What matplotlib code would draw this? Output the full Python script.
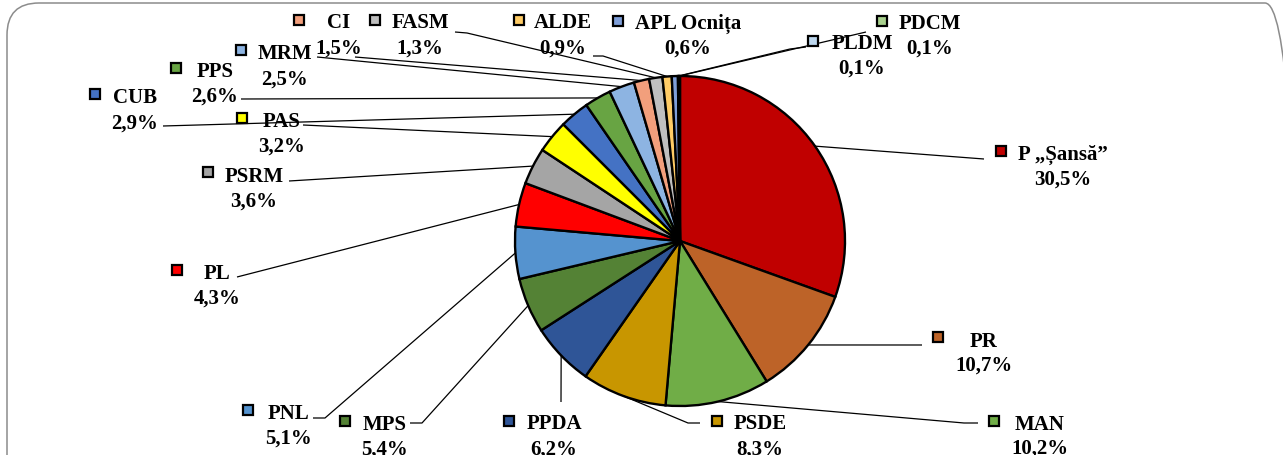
import numpy as np
import matplotlib
matplotlib.use("Agg")
import matplotlib.pyplot as plt
from matplotlib.patches import FancyBboxPatch

# ---------------- data ----------------
parties = ["P „Șansă”", "PR", "MAN", "PSDE", "PPDA", "MPS", "PNL", "PL", "PSRM",
           "PAS", "CUB", "PPS", "MRM", "CI", "FASM", "ALDE", "APL Ocnița",
           "PLDM", "PDCM"]
shares = [30.5, 10.7, 10.2, 8.3, 6.2, 5.4, 5.1, 4.3, 3.6,
          3.2, 2.9, 2.6, 2.5, 1.5, 1.3, 0.9, 0.6,
          0.1, 0.1]
pct_labels = [f"{v:.1f}%".replace(".", ",") for v in shares]

# ---------------- style ----------------
colors = ["#C00000", "#BD6328", "#70AD47", "#C89600", "#2F5597", "#548235",
          "#5593CF", "#FF0000", "#A5A5A5", "#FFFF00", "#4472C4", "#68A443",
          "#8DB4E2", "#F29F7C", "#BFBFBF", "#FFCC66", "#7F9FD9",
          "#BDD7EE", "#A9D18E"]

W, H = 1283, 456
CX, CY, R = 680, 242, 165  # pie centre / radius in pixels (y down)

# label layout in pixels (y down):
# marker x,y ; text centre x ; name y ; pct y ; line end ; elbow
layout = [
    (1001, 152, 1063, 153, 178, (984, 160), None),
    (938, 338, 984, 340, 364, (922, 346), None),
    (994, 422, 1040, 423, 447, (978, 424), (964, 424)),
    (717, 422, 760, 422, 448, (700, 424), (688, 424)),
    (509, 422, 554, 422, 448, (561, 403), None),
    (345, 422, 385, 423, 448, (410, 424), (422, 424)),
    (248, 411, 289, 412, 437, (313, 419), (325, 419)),
    (177, 271, 217, 272, 297, (237, 278), None),
    (208, 173, 254, 175, 200, (289, 182), None),
    (242, 119, 282, 120, 145, (303, 126), None),
    (95, 95, 135, 96, 122, (163, 127), None),
    (176, 69, 215, 70, 95, (241, 100), None),
    (241, 51, 285, 52, 78, (317, 58), None),
    (299, 21, 339, 21, 47, (355, 58), None),
    (375, 21, 420, 21, 47, (455, 33), (467, 34)),
    (519, 21, 563, 21, 47, (593, 57), (603, 57)),
    (618, 22, 688, 22, 47, None, None),
    (813, 42, 862, 42, 67, (806, 48), (790, 50)),
    (882, 22, 930, 22, 47, (866, 33), None),
]


def P(x, y):
    return x, H - y


fig = plt.figure(figsize=(W / 100, H / 100), dpi=100)
ax = fig.add_axes([0, 0, 1, 1])

wedges, _ = ax.pie(shares, colors=colors, startangle=90, counterclock=False,
                   center=P(CX, CY), radius=R,
                   wedgeprops=dict(edgecolor="black", linewidth=1.7))
ax.set_xlim(0, W)
ax.set_ylim(0, H)
ax.set_aspect("auto")
ax.axis("off")

# frame (rounded rectangle, partly outside the canvas)
frame = FancyBboxPatch(P(7, 500), 1290, 496,
                       boxstyle="round,pad=0,rounding_size=32",
                       facecolor="none", edgecolor="#8C8C8C", linewidth=1.1,
                       zorder=0)
ax.add_patch(frame)

font = dict(family="Liberation Serif", weight="bold", size=15, color="black")

for w, name, pct, col, lay in zip(wedges, parties, pct_labels, colors, layout):
    mx, my, tx, ny, py, end, elbow = lay
    th = np.deg2rad((w.theta1 + w.theta2) / 2)
    ex = CX + R * np.cos(th)
    ey = CY - R * np.sin(th)
    if end is not None:
        pts = [(ex, ey)]
        if elbow is not None:
            pts.append(elbow)
        pts.append(end)
        xs = [p[0] for p in pts]
        ys = [H - p[1] for p in pts]
        ax.plot(xs, ys, color="black", lw=0.9, zorder=1, solid_capstyle="butt")
    ax.plot(*P(mx, my), marker="s", markersize=7.5, markerfacecolor=col,
            markeredgecolor="black", markeredgewidth=1.6, zorder=3)
    ax.text(*P(tx, ny + 7), name, ha="center", va="baseline", zorder=3, **font)
    ax.text(*P(tx, py + 7), pct, ha="center", va="baseline", zorder=3, **font)

fig.savefig("out.png", dpi=100)
